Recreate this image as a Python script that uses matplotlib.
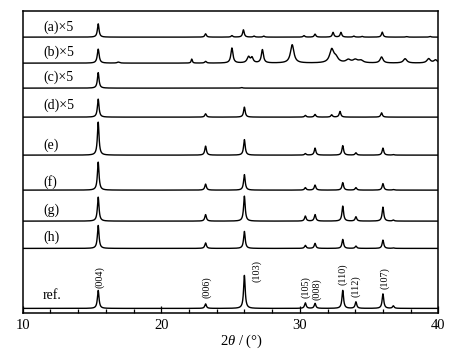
import numpy as np
import matplotlib.pyplot as plt

plt.rcParams['font.family'] = ['Liberation Serif', 'DejaVu Serif']
plt.rcParams['mathtext.fontset'] = 'custom'
plt.rcParams['mathtext.rm'] = 'Liberation Serif'
plt.rcParams['mathtext.it'] = 'Liberation Serif:italic'

# peak lists (2theta, height)
ldh_pos = [15.45, 23.2, 26.0, 30.4, 31.1, 33.1, 34.05, 36.0, 36.75]
ref_hgt = [18, 4.5, 33, 5.5, 5, 18, 6.5, 14.5, 2.5]
h_hgt = [23, 5.5, 17, 3, 5, 9, 2.3, 8.3, 0.5]
g_hgt = [24, 6.5, 25, 5, 6.5, 15, 4.3, 14, 1]
f_hgt = [28, 6, 15.5, 2.5, 5, 7.5, 2.5, 6.5, 0.5]
e_hgt = [33, 9, 15.5, 1.5, 7, 9.5, 2.3, 7, 0.5]

d_pos = [15.45, 23.2, 26.0, 30.4, 31.1, 32.3, 32.9, 35.9]
d_hgt = [18, 3.3, 10, 1.7, 2.7, 2.3, 5.7, 4.3]

c_pos = [15.45, 25.8]
c_hgt = [15.5, 0.6]

b_pos = [15.45, 16.9, 22.2, 23.2, 25.1, 26.3, 26.55, 27.3, 29.45,
         32.3, 32.6, 33.5, 34.0, 34.4, 35.9, 37.6, 39.3, 39.8]
b_hgt = [14, 1, 4, 1.7, 15, 6, 5, 13.3, 18.3,
         13, 5, 3, 3, 2.5, 6, 4.3, 4.3, 3]
b_wid = [0.16, 0.2, 0.1, 0.15, 0.18, 0.25, 0.2, 0.18, 0.3,
         0.35, 0.4, 0.4, 0.4, 0.4, 0.25, 0.3, 0.3, 0.3]

a_pos = [15.45, 23.2, 25.1, 25.93, 26.7, 27.4, 30.3, 31.1, 32.4, 32.97,
         33.9, 34.5, 35.95, 37.7, 39.4]
a_hgt = [13.3, 3.3, 1.5, 7.3, 1, 1, 1.5, 3, 4.7, 4.7,
         1, 0.7, 5, 0.5, 0.7]

labels = ['(a)×5', '(b)×5', '(c)×5', '(d)×5', '(e)', '(f)', '(g)', '(h)', 'ref.']
offsets = [276.3, 250.3, 225.3, 196.3, 158.3, 123.3, 92.3, 65, 5]
label_dy = [10, 11, 11, 12, 10, 8, 11, 11, 13]

hkl = ['(004)', '(006)', '(103)', '(105)', '(008)', '(110)', '(112)', '(107)']
hkl_x = [15.55, 23.3, 26.9, 30.4, 31.2, 33.1, 34.05, 36.1]
hkl_y = [25.3, 15.3, 31.3, 15.3, 13.3, 28.3, 16.3, 24.3]


def pattern(x, pos, hgt, wid=0.14):
    if np.isscalar(wid):
        wid = [wid] * len(pos)
    y = np.zeros_like(x)
    for p, h, w in zip(pos, hgt, wid):
        y += h / (1 + ((x - p) / (w / 2)) ** 2)
    return y


x = np.linspace(10, 40, 3001)
traces = [
    pattern(x, a_pos, a_hgt),
    pattern(x, b_pos, b_hgt, b_wid),
    pattern(x, c_pos, c_hgt),
    pattern(x, d_pos, d_hgt),
    pattern(x, ldh_pos, e_hgt),
    pattern(x, ldh_pos, f_hgt),
    pattern(x, ldh_pos, g_hgt),
    pattern(x, ldh_pos, h_hgt),
    pattern(x, ldh_pos, ref_hgt),
]

fig = plt.figure(figsize=(4.66, 3.59), dpi=100)
ax = fig.add_axes([0.0487, 0.127, 0.892, 0.842])

for y, off, lab, dy in zip(traces, offsets, labels, label_dy):
    ax.plot(x, y + off, color='black', lw=1.0)
    ax.text(11.46, off + dy, lab, fontsize=10, va='center', ha='left')

for t, hx, hy in zip(hkl, hkl_x, hkl_y):
    ax.text(hx, hy, t, fontsize=7.3, rotation=90, ha='center', va='bottom')

ax.set_xlim(10, 40)
ax.set_ylim(0, 302.3)
ax.set_xticks([10, 20, 30, 40])
ax.set_xticks(np.arange(10, 41, 2), minor=True)
ax.set_yticks([])
ax.tick_params(axis='x', which='major', direction='in', length=5, width=0.9,
               labelsize=10.5, pad=4)
ax.tick_params(axis='x', which='minor', direction='in', length=2.7, width=0.9)
for s in ax.spines.values():
    s.set_linewidth(1.1)

ax.set_xlabel(r'$2\theta$ / (°)', fontsize=10.5)
ax.xaxis.set_label_coords(0.525, -0.065)

fig.savefig('out.png', dpi=100)
